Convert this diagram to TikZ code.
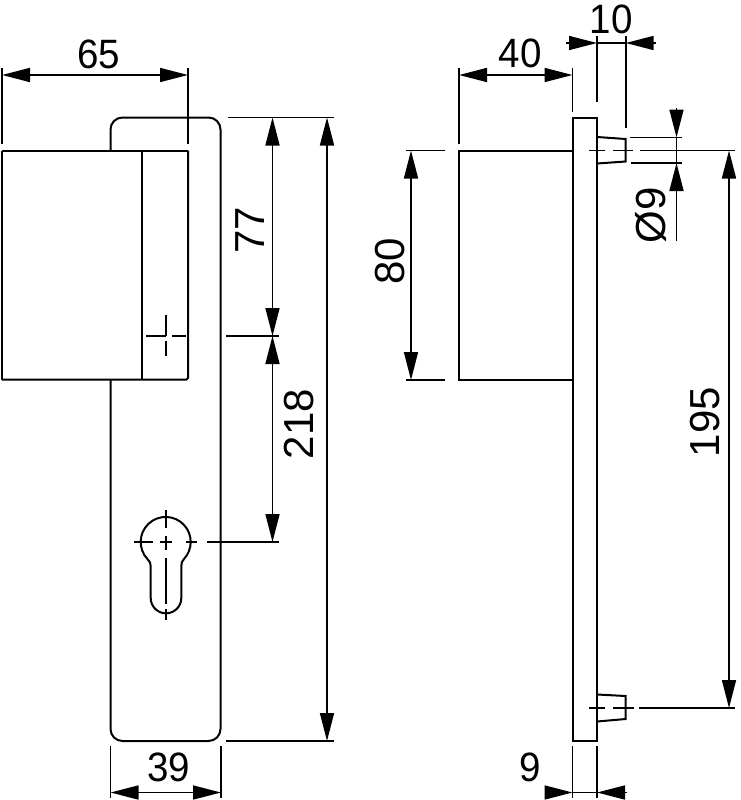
\documentclass[tikz,border=0pt]{standalone}
\usepackage{fontspec}
\setmainfont{Liberation Sans}
\usetikzlibrary{arrows.meta}
\tikzset{
  part/.style={line width=2pt,line join=miter},
  thin line/.style={line width=1.8pt},
  dim/.style={line width=1.6pt,{Triangle[length=28pt,width=14pt]}-{Triangle[length=28pt,width=14pt]}},
  tip end/.style={line width=1.6pt,-{Triangle[length=28pt,width=14pt]}},
  dimtext/.style={inner sep=0pt,xscale=0.94,font=\fontsize{41}{43}\selectfont},
  dimtextup/.style={inner sep=0pt,rotate=90,font=\fontsize{42}{44}\selectfont},
}
\begin{document}
\begin{tikzpicture}[x=1pt,y=-1pt]
    \useasboundingbox (0,0) rectangle (740,800);
    % front view
    \draw[part,rounded corners=12pt] (110.5,150.5) -- (110.5,117.5) -- (220.5,117.5) -- (220.5,741) -- (110.5,741) -- (110.5,380);
    \draw[part] (2,150.5) -- (188,150.5);
    \draw[part] (2,150.5) -- (2,380);
    \draw[part,rounded corners=1.5pt] (188,150.5) -- (188,379.5) -- (2,379.5);
    \draw[part] (142,150.5) -- (142,379.5);
    \draw[thin line] (146,336) -- (166,336);
    \draw[thin line] (172,336) -- (186,336);
    \draw[thin line] (165.7,315) -- (165.7,336);
    \draw[thin line] (165.7,341) -- (165.7,356);
    % lock cut-out
    \draw[part] (147.4,559) arc[start angle=137,end angle=403,radius=25]
        .. controls (182,561) and (181.3,563) .. (181.3,566) -- (181.3,598)
        arc[start angle=0,end angle=180,radius=15.3] -- (150.7,566)
        .. controls (150.7,563) and (149.5,561) .. (147.4,559);
    \draw[thin line] (134,542) -- (153,542);
    \draw[thin line] (160,542) -- (172,542);
    \draw[thin line] (186,542) -- (197,542);
    \draw[thin line] (165.7,510) -- (165.7,528);
    \draw[thin line] (165.7,536) -- (165.7,550);
    \draw[thin line] (165.7,558) -- (165.7,604);
    \draw[thin line] (165.7,609) -- (165.7,620);
    % side view
    \draw[part] (572.5,117.5) rectangle (597,741);
    \draw[part] (572.5,150.5) -- (459,150.5) -- (459,380) -- (572.5,380);
    \draw[part] (597,137) -- (625.7,139) -- (625.7,161.5) -- (597,163.5);
    \draw[part] (597,694.5) -- (625.7,696) -- (625.7,719) -- (597,721.5);
    \draw[thin line] (589,150.5) -- (605,150.5);
    \draw[thin line] (613,150.5) -- (633,150.5);
    \draw[thin line] (640,150.5) -- (735,150.5);
    \draw[thin line] (589,708) -- (605,708);
    \draw[thin line] (613,708) -- (634,708);
    \draw[thin line] (639,708) -- (735,708);
    % extension lines
    \draw[thin line] (2,68) -- (2,144);
    \draw[thin line] (188,68) -- (188,144);
    \draw[thin line] (459,68) -- (459,144);
    \draw[thin line] (572.5,68) -- (572.5,112);
    \draw[thin line] (597,36) -- (597,102);
    \draw[thin line] (625.7,36) -- (625.7,128);
    \draw[thin line] (228,117.5) -- (334,117.5);
    \draw[thin line] (226,336) -- (279,336);
    \draw[thin line] (207,542) -- (279,542);
    \draw[thin line] (226,741) -- (334,741);
    \draw[thin line] (406,150.5) -- (445,150.5);
    \draw[thin line] (406,380) -- (445,380);
    \draw[thin line] (630,137.5) -- (682,137.5);
    \draw[thin line] (631,163) -- (682,163);
    \draw[thin line] (110.5,746) -- (110.5,798);
    \draw[thin line] (221,746) -- (221,798);
    \draw[thin line] (572.5,746) -- (572.5,798);
    \draw[thin line] (597,746) -- (597,798);
    % dimensions
    \coordinate (w65a) at (2,75);
    \coordinate (w65b) at (188,75);
    \coordinate (w40a) at (459,75);
    \coordinate (w40b) at (572.5,75);
    \coordinate (h77a) at (272.5,117.5);
    \coordinate (h77b) at (272.5,336);
    \coordinate (lockb) at (272.5,542);
    \coordinate (h218a) at (327,117.5);
    \coordinate (h218b) at (327,741);
    \coordinate (h80a) at (411,150.5);
    \coordinate (h80b) at (411,380);
    \coordinate (h195a) at (729,150.5);
    \coordinate (h195b) at (729,708);
    \coordinate (w39a) at (110.5,792.5);
    \coordinate (w39b) at (221,792.5);
    \draw[dim] (w65a) -- (w65b);
    \draw[dim] (w40a) -- (w40b);
    \draw[dim] (h77a) -- (h77b);
    \draw[dim] (h77b) -- (lockb);
    \draw[dim] (h218a) -- (h218b);
    \draw[dim] (h80a) -- (h80b);
    \draw[dim] (h195a) -- (h195b);
    \draw[dim] (w39a) -- (w39b);
    % arrows from outside
    \coordinate (w10a) at (566,43);
    \coordinate (w10b) at (597,43);
    \coordinate (w10c) at (625.7,43);
    \coordinate (w10d) at (656,43);
    \draw[tip end] (w10a) -- (w10b);
    \draw[thin line] (w10b) -- (w10c);
    \draw[tip end] (w10d) -- (w10c);
    \coordinate (d9a) at (676.5,108);
    \coordinate (d9b) at (676.5,137.5);
    \coordinate (d9c) at (676.5,163);
    \coordinate (d9d) at (676.5,240.5);
    \draw[tip end] (d9a) -- (d9b);
    \draw[thin line] (d9b) -- (d9c);
    \draw[tip end] (d9d) -- (d9c);
    \coordinate (w9a) at (545,792.5);
    \coordinate (w9b) at (572.5,792.5);
    \coordinate (w9c) at (597,792.5);
    \coordinate (w9d) at (627,792.5);
    \draw[tip end] (w9a) -- (w9b);
    \draw[thin line] (w9b) -- (w9c);
    \draw[tip end] (w9d) -- (w9c);
    % labels
    \node[dimtext] (t65) at (99,54) {65};
    \node[dimtext] (t40) at (520,53) {40};
    \node[dimtext] (t10) at (611,19) {10};
    \node[dimtext] (t39) at (169,767) {39};
    \node[dimtext] (t9) at (530,767) {9};
    \node[dimtextup] (t77) at (250,230) {77};
    \node[dimtextup] (t218) at (299,424) {218};
    \node[dimtextup] (t80) at (390,261) {80};
    \node[dimtextup] (t195) at (705,422) {195};
    \node[dimtextup] (t9d) at (651,215) {Ø9};
\end{tikzpicture}
\end{document}
